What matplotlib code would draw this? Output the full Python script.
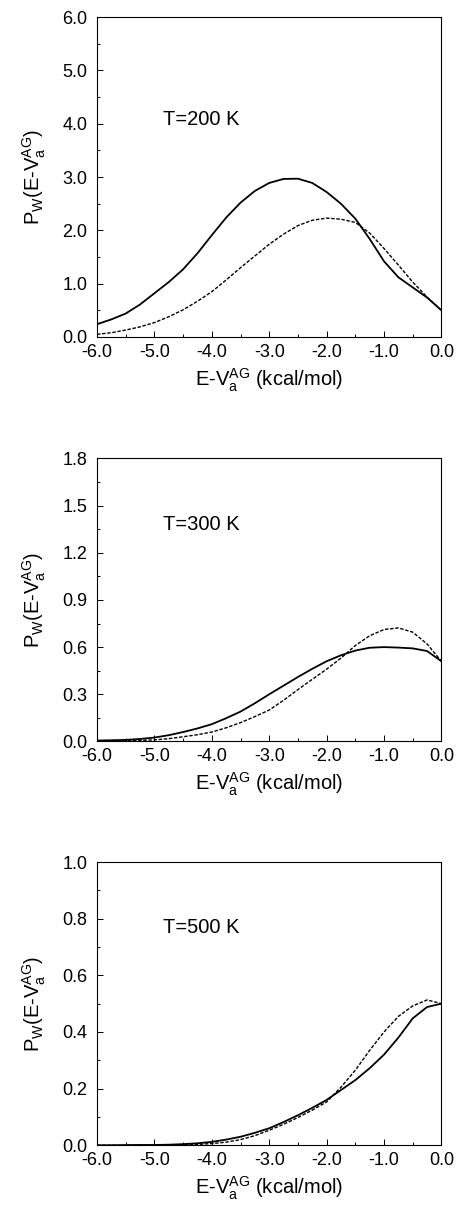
import numpy as np
import matplotlib
matplotlib.use("Agg")
import matplotlib.pyplot as plt
from matplotlib.ticker import MultipleLocator, FormatStrFormatter

plt.rcParams['font.family'] = ['Liberation Sans', 'DejaVu Sans']
plt.rcParams['mathtext.default'] = 'regular'
plt.rcParams['axes.unicode_minus'] = False

# energy grid (kcal/mol)
energy = np.arange(-6.0, 0.001, 0.25)

# T = 200 K
p200_solid = [0.24, 0.33, 0.44, 0.61, 0.82, 1.03, 1.27, 1.57, 1.91, 2.24, 2.52, 2.74,
              2.89, 2.965, 2.97, 2.89, 2.72, 2.50, 2.22, 1.84, 1.42, 1.12, 0.93, 0.74, 0.50]
p200_dash = [0.05, 0.08, 0.13, 0.19, 0.27, 0.38, 0.51, 0.67, 0.85, 1.07, 1.30, 1.52,
             1.74, 1.93, 2.09, 2.19, 2.23, 2.21, 2.15, 1.95, 1.66, 1.35, 1.03, 0.75, 0.50]

# T = 300 K
p300_solid = [0.006, 0.008, 0.010, 0.016, 0.025, 0.040, 0.060, 0.083, 0.110, 0.148, 0.190,
              0.243, 0.300, 0.355, 0.410, 0.462, 0.510, 0.548, 0.578, 0.596, 0.600, 0.597,
              0.592, 0.575, 0.510]
p300_dash = [0.0, 0.002, 0.004, 0.007, 0.010, 0.018, 0.030, 0.043, 0.060, 0.087, 0.120,
             0.158, 0.200, 0.262, 0.330, 0.395, 0.460, 0.530, 0.610, 0.672, 0.712, 0.722,
             0.695, 0.620, 0.510]

# T = 500 K
p500_solid = [0.0, 0.0, 0.0005, 0.001, 0.001, 0.002, 0.004, 0.007, 0.012, 0.020, 0.030,
              0.044, 0.060, 0.082, 0.106, 0.132, 0.160, 0.195, 0.230, 0.272, 0.320, 0.380,
              0.448, 0.488, 0.500]
p500_dash = [0.0, 0.0, 0.0, 0.0005, 0.0005, 0.001, 0.002, 0.003, 0.006, 0.011, 0.020,
             0.034, 0.053, 0.074, 0.098, 0.124, 0.153, 0.205, 0.265, 0.335, 0.400, 0.455,
             0.492, 0.513, 0.500]

temps = ["T=200 K", "T=300 K", "T=500 K"]
ymaxs = [6.0, 1.8, 1.0]
ymajor = [1.0, 0.3, 0.2]
yminor = [0.5, 0.15, 0.1]

fig = plt.figure(figsize=(4.58, 12.10), dpi=100)
rects = [[0.2118, 0.7215, 0.752, 0.2643],
         [0.2118, 0.3872, 0.752, 0.2340],
         [0.2118, 0.0535, 0.752, 0.2341]]
text_y = [0.68, 0.768, 0.768]
series = [(p200_solid, p200_dash), (p300_solid, p300_dash), (p500_solid, p500_dash)]

for i, rect in enumerate(rects):
    ax = fig.add_axes(rect)
    solid, dash = series[i]
    ax.plot(energy, solid, color='black', lw=1.3, solid_joinstyle='round')
    ax.plot(energy, dash, color='black', lw=1.0, linestyle=(0, (2.5, 1.2)))
    ax.set_xlim(-6.0, 0.0)
    ax.set_ylim(0.0, ymaxs[i])
    ax.xaxis.set_major_locator(MultipleLocator(1.0))
    ax.xaxis.set_minor_locator(MultipleLocator(0.5))
    ax.yaxis.set_major_locator(MultipleLocator(ymajor[i]))
    ax.yaxis.set_minor_locator(MultipleLocator(yminor[i]))
    ax.xaxis.set_major_formatter(FormatStrFormatter('%.1f'))
    ax.yaxis.set_major_formatter(FormatStrFormatter('%.1f'))
    ax.tick_params(which='both', direction='in', top=False, right=False,
                   labelsize=13, width=0.7)
    ax.tick_params(which='major', length=4)
    ax.tick_params(which='minor', length=2.5)
    ax.tick_params(axis='x', which='major', pad=5)
    ax.tick_params(axis='y', which='major', pad=7)
    for s in ax.spines.values():
        s.set_linewidth(0.8)
    ax.text(0.192, text_y[i], temps[i], transform=ax.transAxes, fontsize=14.5,
            va='center', ha='left')
    ax.set_xlabel('E-V$_a^{AG}$ (kcal/mol)', fontsize=14.5, labelpad=4)
    ax.set_ylabel('P$_W$(E-V$_a^{AG}$)', fontsize=14.5, labelpad=10)

fig.savefig('out.png', dpi=100)
